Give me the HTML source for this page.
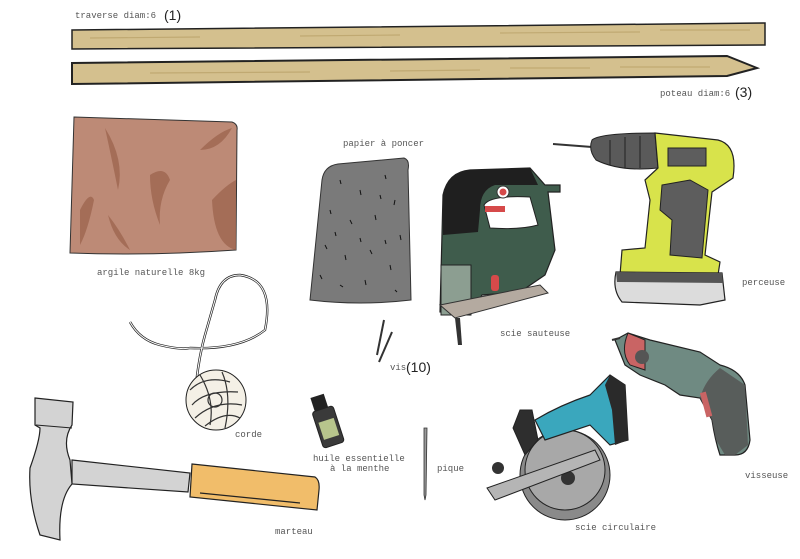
<!DOCTYPE html>
<html><head><meta charset="utf-8"><style>
html,body{margin:0;padding:0;background:#fff}
svg{display:block}
text{font-family:"Liberation Mono",monospace;font-size:9px;fill:#555}
.h{font-family:"Liberation Sans",sans-serif;font-size:14px;fill:#222}
</style></head><body>
<svg width="800" height="559" viewBox="0 0 800 559" xmlns="http://www.w3.org/2000/svg">
<!-- planks -->
<text x="75" y="18">traverse diam:6</text><text class="h" x="164" y="20">(1)</text>
<polygon points="72,30 765,23 765,45 72,49" fill="#d4c08e" stroke="#222" stroke-width="1.5"/>
<g stroke="#c0a972" stroke-width="1.2"><line x1="90" y1="38" x2="200" y2="37"/><line x1="300" y1="36" x2="400" y2="35"/><line x1="500" y1="33" x2="640" y2="32"/><line x1="660" y1="30" x2="750" y2="30"/></g>
<polygon points="72,63 727,56 757,68 727,76 72,84" fill="#d4c08e" stroke="#222" stroke-width="2"/>
<g stroke="#c0a972" stroke-width="1.2"><line x1="150" y1="73" x2="310" y2="72"/><line x1="390" y1="71" x2="480" y2="70"/><line x1="510" y1="68" x2="590" y2="68"/><line x1="620" y1="67" x2="710" y2="67"/></g>
<text x="660" y="96">poteau diam:6</text><text class="h" x="735" y="97">(3)</text>
<!-- clay -->
<path d="M74,117 L232,122 Q238,124 237,130 L236,250 Q150,256 70,253 Z" fill="#bd8a76" stroke="#333" stroke-width="1"/>
<g fill="#9e6650" opacity=".8"><path d="M105,128 Q125,160 118,190 Q112,160 105,128Z"/><path d="M200,150 Q218,132 232,128 Q220,150 200,150Z"/><path d="M212,200 Q226,185 236,180 L236,250 Q214,245 212,200Z"/><path d="M80,210 Q90,190 94,200 Q88,230 80,245Z"/><path d="M108,215 Q120,230 130,250 Q114,240 108,215Z"/><path d="M150,175 Q165,165 170,180 Q158,200 160,225 Q150,200 150,175Z"/></g>
<text x="97" y="275">argile naturelle 8kg</text>
<!-- sandpaper -->
<text x="343" y="146">papier à poncer</text>
<path d="M338,164 L404,158 Q410,160 408,170 L411,300 Q360,306 310,300 L322,180 Q324,166 338,164Z" fill="#7a7a7a" stroke="#333" stroke-width="1"/>
<g stroke="#111" stroke-width="1">
<line x1="340" y1="180" x2="341" y2="184"/><line x1="360" y1="190" x2="361" y2="195"/><line x1="385" y1="175" x2="386" y2="179"/><line x1="395" y1="200" x2="394" y2="205"/><line x1="330" y1="210" x2="331" y2="214"/><line x1="350" y1="220" x2="352" y2="224"/><line x1="375" y1="215" x2="376" y2="220"/><line x1="400" y1="235" x2="401" y2="240"/><line x1="325" y1="245" x2="327" y2="249"/><line x1="345" y1="255" x2="346" y2="260"/><line x1="370" y1="250" x2="372" y2="254"/><line x1="390" y1="265" x2="391" y2="270"/><line x1="320" y1="275" x2="322" y2="279"/><line x1="340" y1="285" x2="343" y2="287"/><line x1="365" y1="280" x2="366" y2="285"/><line x1="395" y1="290" x2="397" y2="292"/><line x1="380" y1="195" x2="381" y2="199"/><line x1="335" y1="232" x2="336" y2="236"/><line x1="360" y1="238" x2="361" y2="242"/><line x1="385" y1="240" x2="386" y2="244"/></g>
<!-- jigsaw -->
<path d="M443,195 Q448,172 470,170 L530,168 L545,185 L560,185 L560,192 L548,192 L555,250 L545,275 L520,292 L482,295 L470,315 L440,312 Z" fill="#3f5c4c" stroke="#222" stroke-width="1.2"/>
<path d="M443,195 Q448,172 470,170 L530,168 L538,185 L495,185 Q480,190 480,210 L478,232 L443,235 Z" fill="#1f1f1f"/>
<path d="M484,205 Q490,195 530,197 L538,225 Q520,230 490,228 Z" fill="#fff" stroke="#222"/>
<circle cx="503" cy="192" r="6" fill="#fff" stroke="#333"/><circle cx="503" cy="192" r="3.5" fill="#d64a4a"/>
<rect x="485" y="206" width="20" height="6" fill="#d64a4a"/>
<rect x="441" y="265" width="30" height="50" fill="#8c9e91" stroke="#222"/>
<rect x="491" y="275" width="8" height="16" rx="3" fill="#d64a4a"/>
<polygon points="440,305 540,285 548,293 455,318" fill="#b4aaa0" stroke="#333"/>
<polyline points="455,318 458,345 462,345 460,318" fill="#333"/>
<text x="500" y="336">scie sauteuse</text>
<!-- drill -->
<line x1="553" y1="144" x2="592" y2="147" stroke="#333" stroke-width="2"/>
<path d="M592,140 Q600,133 655,133 L658,168 Q620,172 596,160 Q588,150 592,140Z" fill="#5a5a5a" stroke="#222"/>
<g stroke="#222" stroke-width="1"><line x1="610" y1="140" x2="610" y2="165"/><line x1="625" y1="137" x2="625" y2="168"/><line x1="640" y1="136" x2="640" y2="168"/></g>
<path d="M655,133 L718,140 Q738,145 733,178 L712,192 L705,255 L720,262 L718,275 L620,275 L622,250 L645,248 L650,200 L645,180 L658,168Z" fill="#d8e34b" stroke="#222" stroke-width="1.2"/>
<path d="M662,185 L690,180 L708,190 L702,258 L670,255 L672,220 L660,210 Z" fill="#5d5d5d" stroke="#222"/>
<rect x="668" y="148" width="38" height="18" fill="#5d5d5d" stroke="#222"/>
<path d="M616,272 L722,273 L725,300 L700,305 L622,302 Q612,290 616,272Z" fill="#dcdcdc" stroke="#222" stroke-width="1.2"/>
<path d="M616,272 L722,273 L723,283 L617,282Z" fill="#555"/>
<text x="742" y="285">perceuse</text>
<!-- nails -->
<line x1="384" y1="320" x2="377" y2="355" stroke="#333" stroke-width="2"/><line x1="392" y1="332" x2="379" y2="362" stroke="#333" stroke-width="2"/>
<text x="390" y="370">vis</text><text class="h" x="406" y="372">(10)</text>
<!-- rope -->
<g fill="none" stroke="#222" stroke-width="2.4"><path d="M130,322 Q140,340 160,345 Q180,350 190,348 Q240,350 265,330 Q275,280 240,275 Q220,275 215,300 L205,335 Q198,360 195,395"/></g>
<g fill="none" stroke="#fff" stroke-width="1"><path d="M130,322 Q140,340 160,345 Q180,350 190,348 Q240,350 265,330 Q275,280 240,275 Q220,275 215,300 L205,335 Q198,360 195,395"/></g>
<circle cx="216" cy="400" r="30" fill="#f4f0e6" stroke="#222"/>
<g fill="none" stroke="#333" stroke-width="1.2"><path d="M190,390 Q205,375 230,382"/><path d="M192,405 Q205,390 238,392"/><path d="M195,418 Q215,400 242,405"/><path d="M205,426 Q225,410 240,418"/><path d="M200,375 Q215,400 210,425"/><path d="M222,372 Q232,395 225,428"/><circle cx="215" cy="400" r="7"/></g>
<text x="235" y="437">corde</text>
<!-- hammer -->
<path d="M72,460 L190,473 L188,492 L72,484Z" fill="#d3d3d3" stroke="#222" stroke-width="1.2"/>
<path d="M192,464 L315,477 Q320,480 319,490 L317,510 L190,497Z" fill="#f1bd6a" stroke="#222" stroke-width="1.2"/>
<line x1="200" y1="493" x2="300" y2="503" stroke="#222" stroke-width="1.2"/>
<path d="M35,398 L73,402 L72,425 Q62,440 70,460 L72,484 Q58,500 60,540 L40,535 Q28,500 30,468 Q40,440 40,428 L35,425Z" fill="#d3d3d3" stroke="#222" stroke-width="1.2"/>
<line x1="36" y1="425" x2="72" y2="428" stroke="#222"/>
<text x="275" y="534">marteau</text>
<!-- oil -->
<g transform="rotate(-18 327 420)"><rect x="318" y="394" width="14" height="14" fill="#222"/><rect x="315" y="408" width="22" height="38" rx="3" fill="#3a3a3a" stroke="#222"/><rect x="318" y="420" width="16" height="18" fill="#b7c58c"/></g>
<text x="313" y="461">huile essentielle</text><text x="330" y="471">à la menthe</text>
<!-- pique -->
<path d="M424,428 L427,428 L426,495 L425,500 L424,495Z" fill="#999" stroke="#333" stroke-width=".8"/>
<text x="437" y="471">pique</text>
<!-- circular saw -->
<circle cx="565" cy="475" r="45" fill="#8a8a8a" stroke="#222"/>
<circle cx="565" cy="470" r="40" fill="#a8a8a8" stroke="#222"/>
<circle cx="568" cy="478" r="7" fill="#333"/>
<path d="M513,428 L520,410 L532,410 L538,440 L525,455Z" fill="#2e2e2e" stroke="#222"/>
<path d="M535,420 Q560,405 590,395 L610,375 L625,385 L628,440 L610,445 L590,425 L545,440Z" fill="#3aa7bd" stroke="#222" stroke-width="1.2"/>
<path d="M610,375 L625,385 L628,440 L615,445 L612,410 L605,385Z" fill="#2a2a2a"/>
<polygon points="487,488 595,450 600,460 495,500" fill="#b5b5b5" stroke="#222"/>
<circle cx="498" cy="468" r="6" fill="#333"/>
<text x="575" y="530">scie circulaire</text>
<!-- screwdriver -->
<path d="M615,340 L628,333 L650,340 L700,352 L720,365 Q740,370 745,385 L750,440 Q748,455 735,455 L720,455 Q715,440 712,420 L700,398 L680,395 L665,385 L640,375 L625,365Z" fill="#6f8a82" stroke="#222" stroke-width="1.2"/>
<path d="M628,333 L645,340 L645,370 L630,365 Q620,352 628,333Z" fill="#c96464" stroke="#222"/>
<circle cx="642" cy="357" r="7" fill="#555"/>
<path d="M700,398 L712,420 L716,440 L725,455 L735,455 L748,445 L745,385 L720,368 Q705,380 700,398Z" fill="#555" opacity=".85"/>
<rect x="703" y="392" width="6" height="25" fill="#c96464" transform="rotate(-15 706 404)"/>
<line x1="612" y1="340" x2="620" y2="338" stroke="#333" stroke-width="2"/>
<text x="745" y="478">visseuse</text>
</svg>
</body></html>
